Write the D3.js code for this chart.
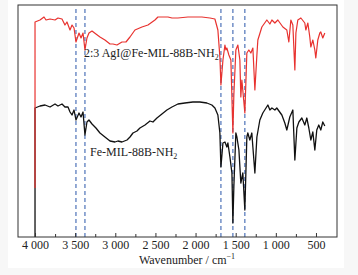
<!DOCTYPE html>
<html><head><meta charset="utf-8">
<script src="https://cdn.jsdelivr.net/npm/d3@7"></script>
<style>
html,body{margin:0;padding:0;background:#f7f7f7;}
svg{display:block;}
</style></head>
<body>
<svg id="chart" width="358" height="275"></svg>
<script>
// ---- data (wavenumber cm^-1, transmittance a.u. with vertical offset) ----
const agiSpectrum = [
[4000,49],[4000,215],[3938,217],[3888,220],[3863,217],[3813,218],[3751,217],[3714,219],[3664,218],
[3627,212],[3602,215],[3564,207],[3539,212],[3514,209],[3490,195],[3452,204],[3427,199],[3402,204],
[3378,187],[3353,199],[3328,204],[3290,206],[3241,203],[3191,200],[3129,197],[3066,193],[3029,193],
[2979,192],[2917,195],[2867,195],[2817,200],[2755,207],[2668,210],[2593,212],[2506,217],[2469,220],
[2344,220],[2294,219],[2220,219],[2095,220],[2008,220],[1921,220],[1821,219],[1759,218],[1722,207],
[1697,180],[1684,152],[1659,177],[1634,192],[1622,187],[1610,189],[1585,182],[1560,177],[1535,104],
[1523,142],[1498,187],[1473,192],[1448,177],[1436,140],[1423,157],[1386,124],[1361,184],[1336,187],
[1311,184],[1286,189],[1261,147],[1236,182],[1224,197],[1174,210],[1112,217],[1074,213],[1049,217],
[1012,214],[975,217],[912,210],[863,207],[838,195],[813,217],[788,212],[763,167],[750,204],[726,217],
[688,219],[639,214],[626,207],[601,214],[577,200],[564,190],[539,197],[514,187],[502,179],[477,197],
[452,204],[440,205],[415,199],[390,204]
];
const mofSpectrum = [
[4000,0],[4000,129],[3938,131],[3875,132],[3813,130],[3751,133],[3714,131],[3664,133],[3627,130],
[3589,130],[3564,125],[3539,122],[3514,127],[3490,117],[3452,124],[3427,120],[3402,125],[3378,102],
[3353,115],[3328,117],[3290,113],[3241,109],[3191,104],[3129,100],[3066,96],[3004,95],[2967,96],
[2917,95],[2854,97],[2817,100],[2780,104],[2730,106],[2693,109],[2630,112],[2568,116],[2531,115],
[2481,119],[2419,123],[2357,127],[2294,130],[2220,133],[2133,134],[2033,135],[1946,135],[1859,134],
[1797,132],[1759,129],[1722,122],[1697,104],[1684,70],[1659,94],[1634,95],[1610,90],[1597,94],
[1572,80],[1547,64],[1535,14],[1523,50],[1498,104],[1485,100],[1460,87],[1436,54],[1411,64],
[1386,27],[1361,100],[1349,104],[1324,97],[1299,104],[1286,90],[1261,64],[1236,100],[1199,117],
[1162,124],[1099,132],[1074,127],[1049,129],[1012,127],[988,129],[925,122],[888,114],[863,107],
[826,120],[788,127],[763,77],[738,109],[713,115],[676,119],[639,112],[614,119],[589,109],[564,97],
[539,105],[514,87],[490,107],[465,112],[440,107],[415,115],[390,111]
];
const markerLines = [3490, 3378, 1684, 1535, 1386];
const majorTicks = [4000, 3500, 3000, 2500, 2000, 1500, 1000, 500];
const minorTicks = [3750, 3250, 2750, 2250, 1750, 1250, 750];
const seriesNames = ["2:3 AgI@Fe-MIL-88B-NH", "Fe-MIL-88B-NH"];
const axisTitle = "Wavenumber / cm";

// ---- layout ----
const svg = d3.select("#chart");
const L = 18, R = 337, T = 5, B = 237;
svg.append("rect").attr("x",8).attr("y",0).attr("width",336).attr("height",268).attr("fill","#fff");

const x = d3.scaleLinear().domain([4212, 238]).range([L, R]);
const y = d3.scaleLinear().domain([0, 232]).range([B, T]);

// dashed marker lines
svg.append("g").selectAll("line").data(markerLines).join("line")
  .attr("x1", d => x(d)).attr("x2", d => x(d))
  .attr("y1", T + 4).attr("y2", B)
  .attr("stroke", "#4d72b8").attr("stroke-width", 1.2)
  .attr("stroke-dasharray", "4,3");

const line = d3.line().x(d => x(d[0])).y(d => y(d[1]));
svg.append("path").datum(mofSpectrum).attr("d", line)
  .attr("fill","none").attr("stroke","#111").attr("stroke-width",1.3).attr("stroke-linejoin","round");
svg.append("path").datum(agiSpectrum).attr("d", line)
  .attr("fill","none").attr("stroke","#e8322f").attr("stroke-width",1.2).attr("stroke-linejoin","round");

// frame
svg.append("rect").attr("x",L).attr("y",T).attr("width",R-L).attr("height",B-T)
  .attr("fill","none").attr("stroke","#333").attr("stroke-width",1);

const serif = "'Liberation Serif', 'Times New Roman', serif";
// axis
const fmt = d => d >= 1000 ? Math.floor(d/1000) + " " + String(d%1000).padStart(3,"0") : String(d);
const ax = svg.append("g").attr("transform", `translate(0,${B})`)
  .call(d3.axisBottom(x).tickValues(majorTicks).tickSizeInner(-4).tickSizeOuter(0).tickFormat(fmt).tickPadding(3));
ax.select(".domain").remove();
ax.selectAll("line").attr("stroke","#333");
ax.selectAll("text").attr("font-family", serif).attr("font-size", 12).attr("fill","#222");
const axm = svg.append("g").attr("transform", `translate(0,${B})`)
  .call(d3.axisBottom(x).tickValues(minorTicks).tickSizeInner(-3).tickSizeOuter(0).tickFormat(""));
axm.select(".domain").remove();
axm.selectAll("line").attr("stroke","#333");

const t = svg.append("text").attr("x", 187).attr("y", 264).attr("text-anchor","middle")
  .attr("font-family", serif).attr("font-size", 12).attr("fill","#222");
t.append("tspan").text(axisTitle);
t.append("tspan").attr("font-size", 8).attr("dy", -5).text("−1");

// series labels
function label(txt, lx, ly) {
  const g = svg.append("text").attr("x", lx).attr("y", ly)
    .attr("font-family", serif).attr("font-size", 12).attr("fill","#222");
  g.append("tspan").text(txt);
  g.append("tspan").attr("font-size", 8).attr("dy", 3).text("2");
}
label(seriesNames[0], 84, 57);
label(seriesNames[1], 90, 156);
</script>
</body></html>
